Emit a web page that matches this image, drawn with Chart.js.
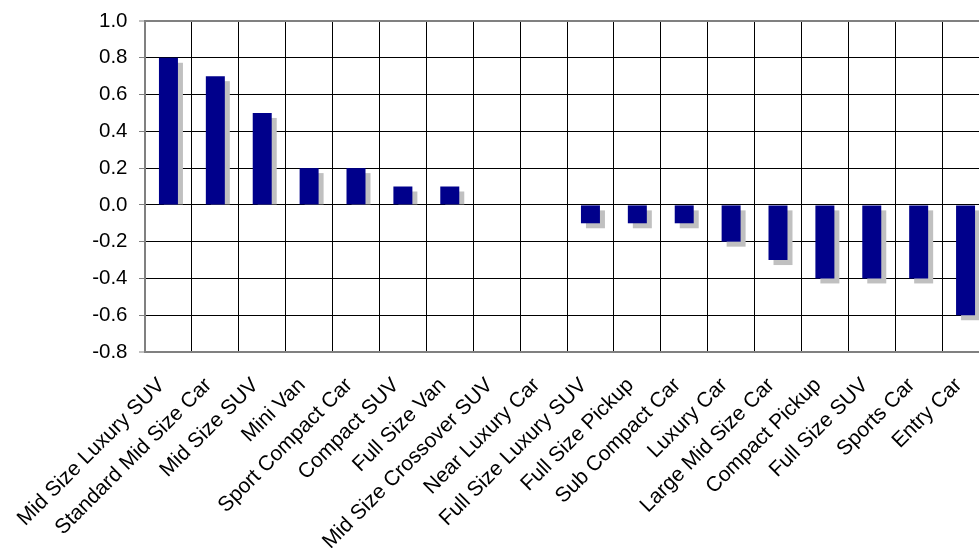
<!DOCTYPE html>
<html>
<head>
<meta charset="utf-8">
<script src="https://cdn.jsdelivr.net/npm/chart.js@4/dist/chart.umd.min.js"></script>
<style>
  html, body { margin: 0; padding: 0; background: #fff; overflow: hidden; }
  #wrap { position: relative; width: 990px; height: 548px; }
</style>
</head>
<body>
<div id="wrap"><canvas id="c"></canvas></div>
<script>
const categories = [
  "Mid Size Luxury SUV", "Standard Mid Size Car", "Mid Size SUV", "Mini Van",
  "Sport Compact Car", "Compact SUV", "Full Size Van", "Mid Size Crossover SUV",
  "Near Luxury Car", "Full Size Luxury SUV", "Full Size Pickup", "Sub Compact Car",
  "Luxury Car", "Large Mid Size Car", "Compact Pickup", "Full Size SUV",
  "Sports Car", "Entry Car"
];
const values = [0.8, 0.7, 0.5, 0.2, 0.2, 0.1, 0.1, 0, 0, -0.1, -0.1, -0.1, -0.2, -0.3, -0.4, -0.4, -0.4, -0.6];
const yMin = -0.8;
const yMax = 1.0;
const yStep = 0.2;

const Y_FONT = '20.5px "Liberation Sans", Arial, sans-serif';
const X_FONT = '21px "Liberation Sans", Arial, sans-serif';
const AXIS_GRAY = '#808080';

const shadowPlugin = {
  id: 'barShadow',
  beforeDatasetsDraw(chart) {
    const ctx = chart.ctx;
    const meta = chart.getDatasetMeta(0);
    ctx.save();
    ctx.fillStyle = '#c0c0c0';
    meta.data.forEach(bar => {
      const p = bar.getProps(['x', 'y', 'base', 'width'], true);
      const left = p.x - p.width / 2 + 5;
      if (Math.abs(p.y - p.base) < 0.5) return;
      if (p.y < p.base) {
        ctx.fillRect(left, p.y + 5, p.width, p.base - (p.y + 5));
      } else {
        ctx.fillRect(left, p.base + 5, p.width, p.y - p.base);
      }
    });
    ctx.restore();
  }
};

const labelPlugin = {
  id: 'axisLabels',
  afterDraw(chart) {
    const ctx = chart.ctx;
    const xs = chart.scales.x, ys = chart.scales.y;
    ctx.save();
    ctx.fillStyle = '#000';
    ctx.textAlign = 'right';
    ctx.textBaseline = 'middle';
    ctx.font = Y_FONT;
    ys.ticks.forEach((t, i) => {
      const py = ys.getPixelForTick(i);
      ctx.fillText(t.label, ys.right - 17.5, py);
    });
    ctx.font = X_FONT;
    xs.ticks.forEach((t, i) => {
      const px = xs.getPixelForTick(i);
      ctx.save();
      ctx.translate(px - 7, xs.top + 30);
      ctx.rotate(-Math.PI / 4);
      ctx.fillText(t.label, 0, 0);
      ctx.restore();
    });
    ctx.restore();
  }
};

const isVal = (v, target) => Math.abs(v - target) < 1e-6;

new Chart(document.getElementById('c'), {
  type: 'bar',
  data: {
    labels: categories,
    datasets: [{
      data: values,
      backgroundColor: '#00008b',
      borderWidth: 0,
      barPercentage: 0.405,
      categoryPercentage: 1.0
    }]
  },
  options: {
    responsive: true,
    maintainAspectRatio: false,
    animation: false,
    layout: { padding: { top: 21, right: 1, left: 0, bottom: 0 } },
    plugins: { legend: { display: false }, tooltip: { enabled: false } },
    scales: {
      x: {
        offset: true,
        grid: {
          offset: true,
          color: '#000',
          lineWidth: 1,
          drawTicks: false
        },
        border: { color: AXIS_GRAY, width: 2 },
        ticks: { display: false, autoSkip: false, minRotation: 45, maxRotation: 45 },
        afterFit(scale) { scale.height = 196; }
      },
      y: {
        min: yMin,
        max: yMax,
        ticks: {
          display: false,
          stepSize: yStep,
          callback: v => Number(v).toFixed(1)
        },
        grid: {
          color: c => (c.tick && (isVal(c.tick.value, yMax) || isVal(c.tick.value, yMin))) ? AXIS_GRAY : '#000',
          lineWidth: c => (c.tick && (isVal(c.tick.value, yMax) || isVal(c.tick.value, yMin))) ? 2 : 1,
          tickColor: AXIS_GRAY,
          tickLength: 6,
          tickWidth: 1
        },
        border: { color: AXIS_GRAY, width: 2 },
        afterFit(scale) { scale.width = 145; }
      }
    }
  },
  plugins: [shadowPlugin, labelPlugin]
});
</script>
</body>
</html>
